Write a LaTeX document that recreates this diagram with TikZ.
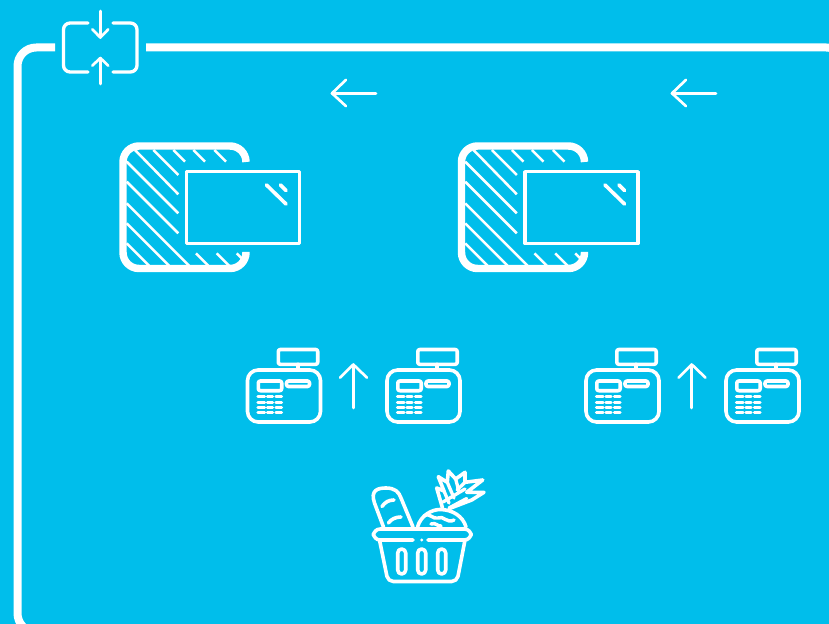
\documentclass[tikz,border=0pt]{standalone}
\definecolor{skybg}{HTML}{00BEEB}
\usetikzlibrary{arrows.meta,positioning}

\begin{document}
\begin{tikzpicture}[x=0.75pt,y=-0.75pt,
    line join=round,
    frameline/.style={draw=white,line width=6pt,rounded corners=14pt},
    thinline/.style={draw=white,line width=2pt,line cap=round},
    iconline/.style={draw=white,line width=2.5pt,line cap=round},
    hatchline/.style={draw=white,line width=1.9pt},
    paneline/.style={draw=white,line width=5.6pt,rounded corners=12pt},
    regline/.style={draw=white,line width=2.7pt,line cap=round,rounded corners=1.5pt},
    keyline/.style={draw=white,line width=2.6pt,line cap=round}]
    \useasboundingbox (0,0) rectangle (829,624);
    \fill[skybg] (0,0) rectangle (829,624);
    \clip (0,0) rectangle (829,624);
    % outer frame
    \draw[frameline] (55,47.5) -- (17.5,47.5) -- (17.5,632) -- (845,632) -- (845,47.5) -- (146,47.5);
    % squeeze icon on the frame
    \draw[iconline,rounded corners=5pt] (88,23) -- (63.5,23) -- (63.5,72) -- (88,72);
    \draw[iconline,rounded corners=5pt] (113,23) -- (137,23) -- (137,72) -- (113,72);
    \draw[thinline] (100.3,11) -- (100.3,37.5);
    \draw[thinline] (92.3,29.3) -- (100.3,37.5) -- (108.3,29.3);
    \draw[thinline] (100.3,84) -- (100.3,58);
    \draw[thinline] (92.3,65.7) -- (100.3,58) -- (108.3,65.7);
    % left arrows
    \foreach \dx in {0,340}{
      \draw[thinline] (\dx+376,93.3) -- (\dx+332,93.3);
      \draw[thinline] (\dx+346,79.8) -- (\dx+332,93.3) -- (\dx+346,106.2);
    }
    % glass panes, up arrows
    \foreach \dx in {0,338.5}{
      \begin{scope}[shift={(\dx,0)}]
        \draw[paneline] (246,162) -- (246,146) -- (123,146) -- (123,268.5) -- (246,268.5) -- (246,252);
        \foreach \xa/\ya/\xb/\yb in {135/150/178.3/194.3,153.3/150/178.3/175,173.3/150/185/161.7,
            193.3/150/205/161.7,214.3/150/226/161.7,126.7/161.7/178.3/213.3,126.7/181.7/178.3/233.3,
            126.7/203.3/189/265.7,126.7/223.3/169/265.7,126.7/243.3/149/265.7,
            196/253.3/208.3/265.7,216.7/253.3/229/265.7,236.7/253.3/241.7/258.3}
          \draw[hatchline] (\xa,\ya) -- (\xb,\yb);
        \draw[draw=white,line width=2.6pt] (186.7,171.7) rectangle (299.3,243.7);
        \draw[regline] (266.5,185) -- (286,204);
        \draw[regline] (280.5,185) -- (286,190.5);
        \draw[thinline] (353.3,408) -- (353.3,364.5);
        \draw[thinline] (340,377.7) -- (353.3,364.5) -- (367,377.7);
      \end{scope}
    }
    % cash registers
    \foreach \dx in {0,139.5,338.5,478.5}{
      \begin{scope}[shift={(\dx,0)}]
        \draw[regline,rounded corners=8pt] (247.5,370) rectangle (320.5,422);
        \draw[regline] (278.3,349.5) rectangle (317.7,364.3);
        \draw[regline] (297.7,364.3) -- (297.7,370);
        \draw[regline] (258.3,381) rectangle (281.7,390.7);
        \draw[regline] (286.5,381) rectangle (309.5,386.5);
        \foreach \ky in {396.7,402.3,407.7,412.7}
          \foreach \xa/\xb in {258/264.5,267.5/272.5,276/281.5}
            \draw[keyline] (\xa,\ky) -- (\xb,\ky);
      \end{scope}
    }
    % basket
    \draw[regline,rounded corners=5pt] (413,540) -- (373.5,540) -- (373.5,529) -- (471,529) -- (471,540) -- (428,540);
    \fill[white] (421.7,540) circle (1.6);
    \draw[regline,rounded corners=4pt] (379.5,540) -- (388,581.5) -- (457,581.5) -- (465,540);
    \foreach \dx in {401.7,421.7,441.7}
      \draw[regline,rounded corners=3pt] (\dx-4,549) rectangle (\dx+4,574);
    % baguette
    \draw[regline,rounded corners=0pt] (383.5,527) -- (374.5,503) .. controls (370,490) and (378,488) .. (386,488)
      .. controls (395,488) and (399,492) .. (401,498) -- (413,527);
    \draw[regline,rounded corners=0pt] (382,506.5) .. controls (385,502) and (389,500) .. (394,500);
    \draw[regline,rounded corners=0pt] (388.5,523) .. controls (391,519) and (396,517) .. (401,517);
    % pineapple
    \draw[regline,rounded corners=0pt] (417.5,527) .. controls (421,515) and (432,509.5) .. (440,509.5)
      .. controls (452,509.5) and (463,516) .. (466,527);
    \draw[keyline] (424,516) .. controls (430,512) and (433,520) .. (438,518)
      .. controls (443,515) and (447,524) .. (454,520);
    \draw[keyline] (431,524) .. controls (436,522) and (438,527) .. (441,526);
    \draw[regline,rounded corners=0pt] (442.5,508) -- (436.7,488) -- (444,491) -- (438.3,476.7) -- (447.3,482.3) -- (448.3,471)
      -- (455.7,479) -- (465,472.3) -- (465,482.3) -- (482.7,480) -- (466.7,492.3) -- (484,492.3) -- (471.7,500) -- (450,508.3);
    \draw[iconline] (443,502) -- (465,489);
    \draw[iconline] (449,508) -- (466.7,498.5);
    \draw[iconline] (444,491) -- (449,503);
    \draw[iconline] (447.3,482.3) -- (454,498);
    \draw[iconline] (455.7,479) -- (459,492);
    \draw[iconline] (465,482.3) -- (457,490);
  \end{tikzpicture}
\end{document}
